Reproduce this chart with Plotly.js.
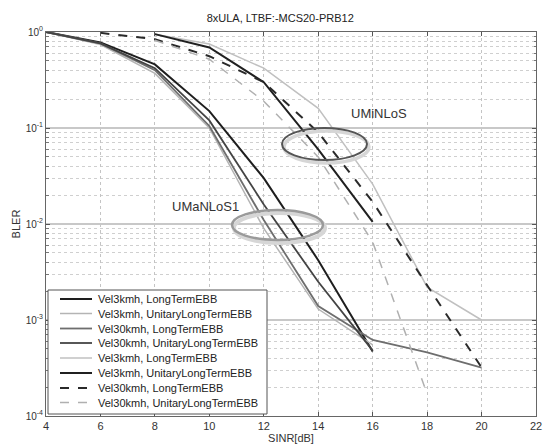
<!DOCTYPE html>
<html>
<head>
<meta charset="utf-8">
<script src="https://cdn.plot.ly/plotly-3.0.1.min.js"></script>
<style>html,body{margin:0;padding:0;background:#fff;}#chart{width:543px;height:445px;}</style>
</head>
<body>
<div id="chart"></div>
<script>
// ---- data ----
var sinrUMa = [4, 6, 8, 10, 12, 14, 16];
var sinrUMaV30LT = [4, 6, 8, 10, 12, 14, 16, 18, 20];
var sinrUMiV3LT = [8, 10, 12, 14, 16, 18, 20];
var sinrUMiV3ULT = [8, 10, 12, 14, 16];
var sinrUMiV30LT = [6, 8, 10, 12, 14, 16, 18, 20];
var sinrUMiV30ULT = [8, 10, 12, 14, 16, 18];

var umaV3LT = [1, 0.78, 0.46, 0.15, 0.03, 0.0042, 0.00047];
var umaV3ULT = [1, 0.74, 0.37, 0.1, 0.009, 0.0013, 0.00055];
var umaV30LT = [1, 0.76, 0.4, 0.105, 0.011, 0.0014, 0.00062, 0.00046, 0.00032];
var umaV30ULT = [1, 0.76, 0.42, 0.12, 0.016, 0.0025, 0.00048];
var umiV3LT = [0.95, 0.75, 0.42, 0.16, 0.026, 0.0022, 0.001];
var umiV3ULT = [0.95, 0.69, 0.3, 0.06, 0.0105];
var umiV30LT = [0.98, 0.84, 0.56, 0.3, 0.09, 0.017, 0.0023, 0.00032];
var umiV30ULT = [0.82, 0.52, 0.19, 0.05, 0.0065, 0.00017];

var seriesNames = [
  "Vel3kmh, LongTermEBB", "Vel3kmh, UnitaryLongTermEBB",
  "Vel30kmh, LongTermEBB", "Vel30kmh, UnitaryLongTermEBB",
  "Vel3kmh, LongTermEBB", "Vel3kmh, UnitaryLongTermEBB",
  "Vel30kmh, LongTermEBB", "Vel30kmh, UnitaryLongTermEBB"
];
var yTickVals = [1e-4, 1e-3, 1e-2, 1e-1, 1];
var yTickText = ["10<sup>-4</sup>", "10<sup>-3</sup>", "10<sup>-2</sup>", "10<sup>-1</sup>", "10<sup>0</sup>"];
var yMinorVals = [2e-4,3e-4,4e-4,5e-4,6e-4,7e-4,8e-4,9e-4,
                  2e-3,3e-3,4e-3,5e-3,6e-3,7e-3,8e-3,9e-3,
                  2e-2,3e-2,4e-2,5e-2,6e-2,7e-2,8e-2,9e-2,
                  0.2,0.3,0.4,0.5,0.6,0.7,0.8,0.9];

// ---- styles ----
var xs = [sinrUMa, sinrUMa, sinrUMaV30LT, sinrUMa, sinrUMiV3LT, sinrUMiV3ULT, sinrUMiV30LT, sinrUMiV30ULT];
var ys = [umaV3LT, umaV3ULT, umaV30LT, umaV30ULT, umiV3LT, umiV3ULT, umiV30LT, umiV30ULT];
var colors = ["#1e1e1e", "#b4b4b4", "#6e6e6e", "#444444", "#c0c0c0", "#202020", "#2a2a2a", "#b0b0b0"];
var widths = [2, 1.5, 1.8, 1.8, 1.5, 2, 2, 1.5];
var dashes = ["solid", "solid", "solid", "solid", "solid", "solid", "dash", "dash"];

var traces = [];
for (var i = 0; i < xs.length; i++) {
  traces.push({
    type: "scatter", mode: "lines", x: xs[i], y: ys[i], name: seriesNames[i],
    line: {color: colors[i], width: widths[i], dash: dashes[i]}, showlegend: false
  });
}

// plot-area pixel geometry
var L = 46, R = 536, T = 32, B = 416;
function px(x) { return (x - L) / (R - L); }
function py(y) { return (B - y) / (B - T); }

var font = "Liberation Sans, Arial, sans-serif";
var shapes = [];
var annotations = [];

// ellipses (with soft shadow)
function ellipse(x0, y0, x1, y1, col, w) {
  shapes.push({type: "circle", xref: "paper", yref: "paper", x0: px(x0 + 2), x1: px(x1 + 2), y0: py(y1 + 3), y1: py(y0 + 3),
    line: {color: "#d6d6d6", width: w + 1.5}, layer: "above"});
  shapes.push({type: "circle", xref: "paper", yref: "paper", x0: px(x0), x1: px(x1), y0: py(y1), y1: py(y0),
    line: {color: col, width: w}, layer: "above"});
}
ellipse(282, 128, 367, 160, "#555555", 2);
ellipse(232, 210, 323, 240, "#9a9a9a", 2.5);

annotations.push({xref: "paper", yref: "paper", x: px(379), y: py(113), xanchor: "center", yanchor: "middle",
  text: "UMiNLoS", showarrow: false, font: {family: font, size: 13, color: "#333"}});
annotations.push({xref: "paper", yref: "paper", x: px(205), y: py(206), xanchor: "center", yanchor: "middle",
  text: "UMaNLoS1", showarrow: false, font: {family: font, size: 13, color: "#333"}});

// custom legend box
shapes.push({type: "rect", xref: "paper", yref: "paper", x0: px(48), x1: px(267), y0: py(414), y1: py(290),
  fillcolor: "#ffffff", line: {color: "#555", width: 1}, layer: "above"});
var rowY = [299, 313.5, 328.5, 343, 358, 373, 388, 402.5];
for (var k = 0; k < seriesNames.length; k++) {
  shapes.push({type: "line", xref: "paper", yref: "paper", x0: px(60), x1: px(92), y0: py(rowY[k]), y1: py(rowY[k]),
    line: {color: colors[k], width: widths[k], dash: dashes[k] === "dash" ? "dash" : "solid"}, layer: "above"});
  annotations.push({xref: "paper", yref: "paper", x: px(96), y: py(rowY[k]), xanchor: "left", yanchor: "middle",
    text: seriesNames[k], showarrow: false, font: {family: font, size: 11, color: "#222"}});
}

var layout = {
  width: 543, height: 445,
  margin: {l: L, r: 543 - R, t: T, b: 445 - B, pad: 0},
  paper_bgcolor: "#ffffff", plot_bgcolor: "#ffffff",
  showlegend: false,
  title: {text: "8xULA, LTBF:-MCS20-PRB12", x: 0.516, xanchor: "center", y: 1 - 18 / 445, yanchor: "middle",
    font: {family: font, size: 11, color: "#222"}},
  xaxis: {
    range: [4, 22], tick0: 4, dtick: 2,
    ticks: "inside", ticklen: 4, tickcolor: "#555", mirror: "ticks",
    showline: true, linecolor: "#666", linewidth: 1,
    showgrid: true, gridcolor: "#c4c4c4", griddash: "dot", gridwidth: 1, zeroline: false,
    tickfont: {family: font, size: 11, color: "#333"},
    title: {text: "SINR[dB]", standoff: 0, font: {family: font, size: 11, color: "#333"}}
  },
  yaxis: {
    type: "log", range: [-4, 0], tickmode: "array", tickvals: yTickVals, ticktext: yTickText,
    ticks: "inside", ticklen: 4, tickcolor: "#555", mirror: "ticks",
    showline: true, linecolor: "#666", linewidth: 1,
    showgrid: true, gridcolor: "#c8c8c8", gridwidth: 1.5, zeroline: false,
    tickfont: {family: font, size: 10, color: "#333"},
    minor: {tickmode: "array", tickvals: yMinorVals, ticks: "inside", ticklen: 2.5, tickcolor: "#777",
      showgrid: true, gridcolor: "#cfcfcf", griddash: "dot", gridwidth: 1},
    title: {text: "BLER", standoff: 2, font: {family: font, size: 11, color: "#333"}}
  },
  shapes: shapes,
  annotations: annotations
};

Plotly.newPlot("chart", traces, layout, {displayModeBar: false, staticPlot: true});
</script>
</body>
</html>
